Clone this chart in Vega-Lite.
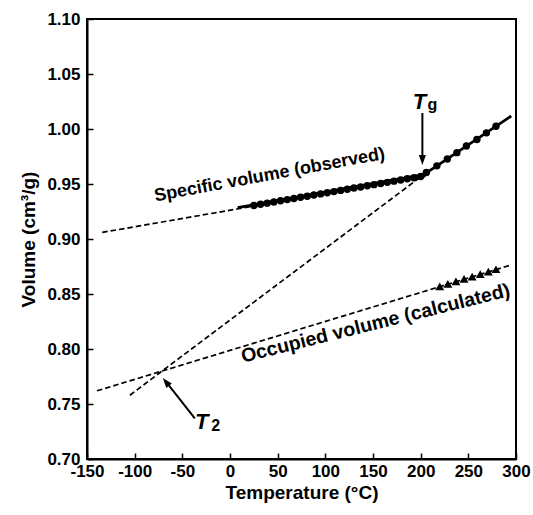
{
  "$schema": "https://vega.github.io/schema/vega-lite/v6.json",
  "width": 429,
  "height": 440,
  "autosize": {"type": "none"},
  "padding": {"left": 87, "top": 19, "right": 17, "bottom": 56},
  "background": "white",
  "config": {
    "view": {"stroke": "black", "strokeWidth": 2},
    "font": "Liberation Sans",
    "axis": {
      "domainColor": "black", "domainWidth": 2,
      "tickColor": "black", "tickWidth": 1.5, "tickSize": -6,
      "labelFont": "Liberation Sans", "labelFontWeight": "bold", "labelFontSize": 17, "labelColor": "black",
      "titleFont": "Liberation Sans", "titleFontWeight": "bold", "titleFontSize": 19, "titleColor": "black",
      "grid": false
    }
  },
  "datasets": {
    "dashed": [
      {"line": "glassy", "T": -134, "V": 0.906},
      {"line": "glassy", "T": 205, "V": 0.957},
      {"line": "rubbery", "T": -105, "V": 0.758},
      {"line": "rubbery", "T": 207, "V": 0.961},
      {"line": "occupied", "T": -139.5, "V": 0.762},
      {"line": "occupied", "T": 295, "V": 0.8764}
    ],
    "fit": [
      {"T": 8, "V": 0.9285},
      {"T": 203, "V": 0.9585},
      {"T": 217, "V": 0.9665},
      {"T": 295, "V": 1.0118}
    ],
    "observed": [
      {"T": 25, "V": 0.9305}, {"T": 32, "V": 0.9316}, {"T": 39, "V": 0.9326}, {"T": 46, "V": 0.9337},
      {"T": 53, "V": 0.9347}, {"T": 60, "V": 0.9358}, {"T": 67, "V": 0.9368}, {"T": 74, "V": 0.9379},
      {"T": 81, "V": 0.9389}, {"T": 88, "V": 0.9400}, {"T": 95, "V": 0.9410}, {"T": 102, "V": 0.9421},
      {"T": 109, "V": 0.9431}, {"T": 116, "V": 0.9442}, {"T": 123, "V": 0.9452}, {"T": 130, "V": 0.9463},
      {"T": 137, "V": 0.9473}, {"T": 144, "V": 0.9484}, {"T": 151, "V": 0.9494}, {"T": 158, "V": 0.9505},
      {"T": 165, "V": 0.9515}, {"T": 172, "V": 0.9526}, {"T": 179, "V": 0.9536}, {"T": 186, "V": 0.9547},
      {"T": 193, "V": 0.9557}, {"T": 200, "V": 0.9568},
      {"T": 206, "V": 0.9605}, {"T": 217, "V": 0.9665}, {"T": 228, "V": 0.9728}, {"T": 238, "V": 0.9785},
      {"T": 248, "V": 0.9845}, {"T": 259, "V": 0.9905}, {"T": 269, "V": 0.9965}, {"T": 279, "V": 1.0025}
    ],
    "occupied": [
      {"T": 220, "V": 0.8570}, {"T": 228.5, "V": 0.8592}, {"T": 237, "V": 0.8614}, {"T": 245.5, "V": 0.8637},
      {"T": 254, "V": 0.8659}, {"T": 262.5, "V": 0.8681}, {"T": 271, "V": 0.8704}, {"T": 279, "V": 0.8725}
    ]
  },
  "layer": [
    {
      "data": {"name": "dashed"},
      "mark": {"type": "line", "color": "black", "strokeWidth": 1.7, "strokeDash": [5.5, 3]},
      "encoding": {
        "x": {"field": "T", "type": "quantitative",
          "scale": {"domain": [-150, 300], "nice": false, "zero": false},
          "axis": {"title": "Temperature (°C)",
            "values": [-150, -125, -100, -75, -50, -25, 0, 25, 50, 75, 100, 125, 150, 175, 200, 225, 250, 275, 300],
            "labelExpr": "datum.value % 50 == 0 ? '' + datum.value : ''",
            "labelPadding": 10, "titlePadding": 4, "labelFlush": false, "labelOverlap": false}},
        "y": {"field": "V", "type": "quantitative",
          "scale": {"domain": [0.7, 1.1], "nice": false, "zero": false},
          "axis": {"title": "Volume (cm³/g)",
            "values": [0.7, 0.725, 0.75, 0.775, 0.8, 0.825, 0.85, 0.875, 0.9, 0.925, 0.95, 0.975, 1.0, 1.025, 1.05, 1.075, 1.1],
            "labelExpr": "round(datum.value * 1000) % 50 == 0 ? format(datum.value, '.2f') : ''",
            "labelPadding": 13, "titlePadding": 8, "labelFlush": false, "labelOverlap": false}},
        "detail": {"field": "line"}
      }
    },
    {
      "data": {"name": "fit"},
      "mark": {"type": "line", "color": "black", "strokeWidth": 2.8},
      "encoding": {
        "x": {"field": "T", "type": "quantitative"},
        "y": {"field": "V", "type": "quantitative"}
      }
    },
    {
      "data": {"name": "observed"},
      "mark": {"type": "point", "shape": "circle", "filled": true, "color": "black", "size": 55, "opacity": 1},
      "encoding": {
        "x": {"field": "T", "type": "quantitative"},
        "y": {"field": "V", "type": "quantitative"}
      }
    },
    {
      "data": {"name": "occupied"},
      "mark": {"type": "point", "shape": "triangle-up", "filled": true, "color": "black", "size": 80, "opacity": 1},
      "encoding": {
        "x": {"field": "T", "type": "quantitative"},
        "y": {"field": "V", "type": "quantitative"}
      }
    },
    {
      "data": {"values": [{"label": "Specific volume (observed)", "T": 41.6, "V": 0.958}]},
      "mark": {"type": "text", "font": "Liberation Sans", "fontWeight": "bold", "fontSize": 18, "angle": -10.5, "align": "center", "baseline": "middle", "color": "black"},
      "encoding": {
        "x": {"field": "T", "type": "quantitative"},
        "y": {"field": "V", "type": "quantitative"},
        "text": {"field": "label"}
      }
    },
    {
      "data": {"values": [{"label": "Occupied volume (calculated)", "T": 152.6, "V": 0.8232}]},
      "mark": {"type": "text", "font": "Liberation Sans", "fontWeight": "bold", "fontSize": 19.5, "angle": -14, "align": "center", "baseline": "middle", "color": "black"},
      "encoding": {
        "x": {"field": "T", "type": "quantitative"},
        "y": {"field": "V", "type": "quantitative"},
        "text": {"field": "label"}
      }
    },
    {
      "data": {"values": [{"label": "T", "T": 198.7, "V": 1.0245}, {"label": "T", "T": -29.6, "V": 0.7336}]},
      "mark": {"type": "text", "font": "Liberation Sans", "fontWeight": "bold", "fontStyle": "italic", "fontSize": 22, "align": "center", "baseline": "middle", "color": "black"},
      "encoding": {
        "x": {"field": "T", "type": "quantitative"},
        "y": {"field": "V", "type": "quantitative"},
        "text": {"field": "label"}
      }
    },
    {
      "data": {"values": [{"label": "g", "T": 212.3, "V": 1.0218}, {"label": "2", "T": -15.0, "V": 0.7300}]},
      "mark": {"type": "text", "font": "Liberation Sans", "fontWeight": "bold", "fontSize": 16, "align": "center", "baseline": "middle", "color": "black"},
      "encoding": {
        "x": {"field": "T", "type": "quantitative"},
        "y": {"field": "V", "type": "quantitative"},
        "text": {"field": "label"}
      }
    },
    {
      "data": {"values": [{"T": 201.8, "V": 1.0145, "T2": 201.8, "V2": 0.973}, {"T": -36.9, "V": 0.737, "T2": -66.0, "V2": 0.769}]},
      "mark": {"type": "rule", "color": "black", "strokeWidth": 2},
      "encoding": {
        "x": {"field": "T", "type": "quantitative"},
        "y": {"field": "V", "type": "quantitative"},
        "x2": {"field": "T2"},
        "y2": {"field": "V2"}
      }
    },
    {
      "data": {"values": [{"T": 201.8, "V": 0.9718}]},
      "mark": {"type": "point", "shape": "M-0.7,-1L0.7,-1L0,1Z", "filled": true, "color": "black", "size": 100, "opacity": 1, "strokeWidth": 0},
      "encoding": {
        "x": {"field": "T", "type": "quantitative"},
        "y": {"field": "V", "type": "quantitative"}
      }
    },
    {
      "data": {"values": [{"T": -67.2, "V": 0.7701}]},
      "mark": {"type": "point", "shape": "M-0.7,1L0.7,1L0,-1Z", "filled": true, "color": "black", "size": 100, "opacity": 1, "strokeWidth": 0, "angle": -38.7},
      "encoding": {
        "x": {"field": "T", "type": "quantitative"},
        "y": {"field": "V", "type": "quantitative"}
      }
    }
  ]
}
